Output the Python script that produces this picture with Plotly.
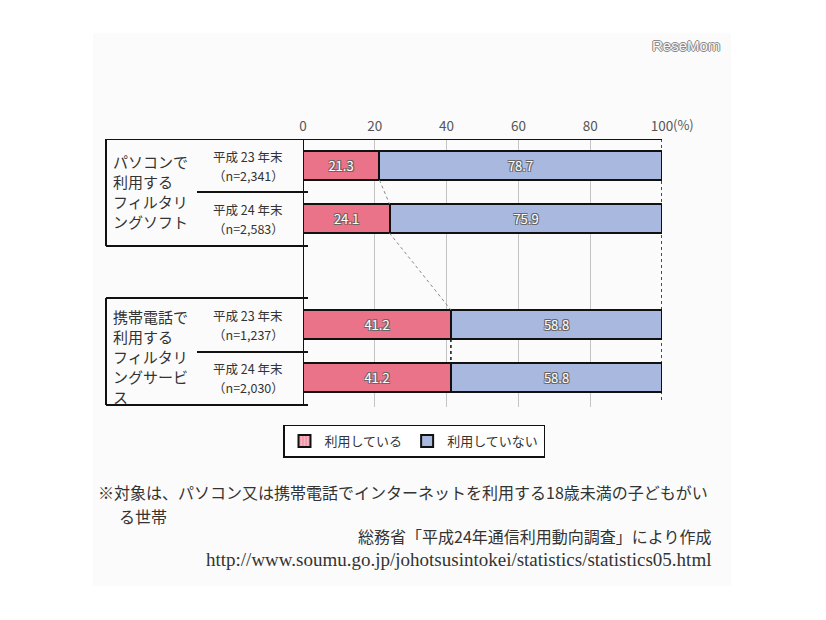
import plotly.graph_objects as go

# ---- data ----
group_label_lines = [["パソコンで", "利用する", "フィルタリ", "ングソフト"],
                     ["携帯電話で", "利用する", "フィルタリ", "ングサービ", "ス"]]
period_labels = ["平成 23 年末", "平成 24 年末", "平成 23 年末", "平成 24 年末"]
n_labels = ["（n=2,341）", "（n=2,583）", "（n=1,237）", "（n=2,030）"]
using = [21.3, 24.1, 41.2, 41.2]
not_using = [78.7, 75.9, 58.8, 58.8]
series_names = ["利用している", "利用していない"]
x_ticks = [0, 20, 40, 60, 80, 100]
note_lines = ["※対象は、パソコン又は携帯電話でインターネットを利用する18歳未満の子どもがい",
              "る世帯"]
source_text = "総務省「平成24年通信利用動向調査」により作成"
url_text = "http://www.soumu.go.jp/johotsusintokei/statistics/statistics05.html"

row_pos = [0, 1, 3, 4]
BAR_W = 0.55
PINK = "#EA7389"
BLUE = "#A9B8DE"
JP = "Noto Sans CJK JP, Noto Sans, sans-serif"
SHADOW = "-1px -1px 0 #666, 1px -1px 0 #666, -1px 1px 0 #666, 1px 1px 0 #666"

# screen geometry (page has an 8px body margin)
OFF = 8
PL, PR, PT, PB = 303, 662, 139, 407
ROW_PX = 53
Y_TOP = -0.5
Y_BOT = Y_TOP + (PB - PT) / ROW_PX


def xpaper(px):
    return (px - PL) / (PR - PL)


def ypaper(py):
    return (PB - py) / (PB - PT)


def yunit(py):
    return (py - PT) / ROW_PX + Y_TOP


fig = go.Figure()
fig.add_trace(go.Bar(
    y=row_pos, x=using, orientation="h", width=BAR_W, name=series_names[0],
    marker=dict(color=PINK, line=dict(color="#111", width=2)),
    text=[f"{v:.1f}" for v in using], textposition="inside",
    insidetextanchor="middle", textangle=0, constraintext="none",
    textfont=dict(color="white", size=13, family=JP, shadow=SHADOW),
    showlegend=False, hoverinfo="skip"))
fig.add_trace(go.Bar(
    y=row_pos, x=not_using, orientation="h", width=BAR_W, name=series_names[1],
    marker=dict(color=BLUE, line=dict(color="#111", width=2)),
    text=[f"{v:.1f}" for v in not_using], textposition="inside",
    insidetextanchor="middle", textangle=0, constraintext="none",
    textfont=dict(color="white", size=13, family=JP, shadow=SHADOW),
    showlegend=False, hoverinfo="skip"))

# legend-only entries
fig.add_trace(go.Bar(x=[None], y=[None], orientation="h", name=series_names[0],
                     marker=dict(color="#F6B3C0", line=dict(color="#111", width=1.5),
                                 pattern=dict(shape="|", fgcolor=PINK, size=4, solidity=0.4))))
fig.add_trace(go.Bar(x=[None], y=[None], orientation="h", name=series_names[1],
                     marker=dict(color=BLUE, line=dict(color="#111", width=1.5))))

shapes = []
# faint background panel
shapes.append(dict(type="rect", xref="paper", yref="paper", x0=xpaper(93), x1=xpaper(731),
                   y0=ypaper(586), y1=ypaper(33), fillcolor="#fbfbfb", line=dict(width=0),
                   layer="below"))
# top axis line
shapes.append(dict(type="line", xref="x", yref="y", x0=0, x1=100, y0=Y_TOP, y1=Y_TOP,
                   line=dict(color="#111", width=2)))
# left axis line
shapes.append(dict(type="line", xref="x", yref="y", x0=0, x1=0, y0=Y_TOP, y1=yunit(405),
                   line=dict(color="#111", width=2)))
# right dashed line at 100
shapes.append(dict(type="line", xref="x", yref="y", x0=100, x1=100, y0=Y_TOP, y1=yunit(401),
                   line=dict(color="#111", width=1.5, dash="dot")))
# category boxes
XL = xpaper(106)
XM = xpaper(197)
XR = xpaper(308)
for top, mid, bot in [(yunit(139), yunit(192), yunit(246)), (yunit(298), yunit(352), yunit(405))]:
    shapes.append(dict(type="line", xref="paper", yref="y", x0=XL, x1=XR, y0=top, y1=top,
                       line=dict(color="#111", width=2)))
    shapes.append(dict(type="line", xref="paper", yref="y", x0=XL, x1=XR, y0=bot, y1=bot,
                       line=dict(color="#111", width=2)))
    shapes.append(dict(type="line", xref="paper", yref="y", x0=XM, x1=XR, y0=mid, y1=mid,
                       line=dict(color="#111", width=2)))
    shapes.append(dict(type="line", xref="paper", yref="y", x0=XL, x1=XL, y0=top, y1=bot,
                       line=dict(color="#111", width=2)))
# connector lines between bars
h = BAR_W / 2
shapes.append(dict(type="line", xref="x", yref="y", x0=using[0], x1=using[1],
                   y0=row_pos[0] + h, y1=row_pos[1] - h, line=dict(color="#888", width=1, dash="dot")))
shapes.append(dict(type="line", xref="x", yref="y", x0=using[1], x1=using[2],
                   y0=row_pos[1] + h, y1=row_pos[2] - h, line=dict(color="#888", width=1, dash="dot")))
shapes.append(dict(type="line", xref="x", yref="y", x0=using[2], x1=using[3],
                   y0=row_pos[2] + h, y1=row_pos[3] - h, line=dict(color="#111", width=1.5, dash="dot")))

annotations = []
XP = xpaper(248)
for i, yp in enumerate(row_pos):
    annotations.append(dict(xref="paper", yref="y", x=XP, y=yp, yshift=9.5,
                            text=period_labels[i], showarrow=False,
                            xanchor="center", yanchor="middle",
                            font=dict(size=12.5, color="#333", family=JP)))
    annotations.append(dict(xref="paper", yref="y", x=XP, y=yp, yshift=-9.5,
                            text=n_labels[i], showarrow=False,
                            xanchor="center", yanchor="middle",
                            font=dict(size=12.5, color="#333", family=JP)))
XG = xpaper(111)
for lines, first_py in zip(group_label_lines, [161, 316]):
    for k, ln in enumerate(lines):
        annotations.append(dict(xref="paper", yref="y", x=XG, y=yunit(first_py + 20 * k),
                                text=ln, showarrow=False, xanchor="left", yanchor="middle",
                                font=dict(size=15, color="#333", family=JP)))
# (%) after 100
annotations.append(dict(xref="x", yref="paper", x=100, y=ypaper(125), text="(%)", showarrow=False,
                        xanchor="left", yanchor="middle", xshift=9,
                        font=dict(size=13, color="#555", family=JP)))
# footer notes
annotations.append(dict(xref="paper", yref="paper", x=xpaper(96), y=ypaper(492),
                        text=note_lines[0], showarrow=False, xanchor="left", yanchor="middle",
                        font=dict(size=16, color="#333", family=JP)))
annotations.append(dict(xref="paper", yref="paper", x=xpaper(117), y=ypaper(516),
                        text=note_lines[1], showarrow=False, xanchor="left", yanchor="middle",
                        font=dict(size=16, color="#333", family=JP)))
annotations.append(dict(xref="paper", yref="paper", x=xpaper(713), y=ypaper(536),
                        text=source_text, showarrow=False, xanchor="right", yanchor="middle",
                        font=dict(size=16, color="#333", family=JP)))
annotations.append(dict(xref="paper", yref="paper", x=xpaper(713), y=ypaper(559),
                        text=url_text, showarrow=False, xanchor="right", yanchor="middle",
                        font=dict(size=19, color="#333", family="Liberation Serif, serif")))
# watermark
annotations.append(dict(xref="paper", yref="paper", x=xpaper(686), y=ypaper(45),
                        text="ReseMom", showarrow=False, xanchor="center", yanchor="middle",
                        font=dict(size=15, color="#f6f6f6", family="Liberation Sans, sans-serif",
                                  shadow="-1px 0 0 #888, 1px 0 0 #888, 0 -1px 0 #888, 0 1px 0 #888")))

fig.update_layout(
    width=826, height=620,
    margin=dict(l=PL - OFF, r=826 - (PR - OFF), t=PT - OFF, b=620 - (PB - OFF)),
    paper_bgcolor="white", plot_bgcolor="rgba(0,0,0,0)",
    barmode="stack", bargap=0,
    xaxis=dict(range=[0, 100], side="top", tickvals=x_ticks,
               ticktext=[str(t) for t in x_ticks], showgrid=True,
               gridcolor="#c4c4c4", gridwidth=1, zeroline=False, showline=False,
               ticks="", ticklabelstandoff=4,
               tickfont=dict(size=13.5, color="#555", family=JP), fixedrange=True),
    yaxis=dict(range=[Y_BOT, Y_TOP], showticklabels=False, showgrid=False,
               zeroline=False, showline=False, ticks="", fixedrange=True),
    legend=dict(orientation="h", xanchor="center", yanchor="middle",
                x=xpaper(414), y=ypaper(441), bordercolor="#111", borderwidth=1.5,
                bgcolor="white", font=dict(size=13, color="#333", family=JP),
                itemsizing="constant", traceorder="normal"),
    shapes=shapes, annotations=annotations,
)

fig.write_html("out.html")
